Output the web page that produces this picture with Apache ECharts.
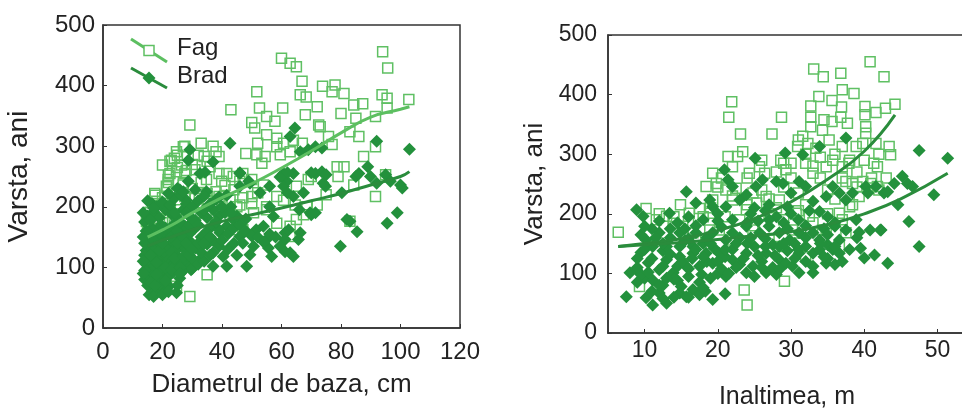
<!DOCTYPE html>
<html>
<head>
<meta charset="utf-8">
<script src="https://cdn.jsdelivr.net/npm/echarts@6/dist/echarts.min.js"></script>
<style>
  html, body { margin: 0; padding: 0; background: #fff; }
  #chart { width: 962px; height: 409px; }
</style>
</head>
<body>
<div id="chart"></div>
<script>
// Left panel: age (Varsta, ani) vs. base diameter (cm)
var diamFag = [
  [94,456],[95.7,429],[60,445],[62.9,437],[65,431],[66.9,407],[66.3,385],[68.3,381],
  [51.7,390],[73.8,399],[78,401],[77,390],[81,387],[93.8,385],[95.5,379],[102.8,377],[95.5,363],
  [43,360],[60.4,363],[72,365],[68,352],[52.6,363],[55,349],[57.8,341],[84.3,368],[87.3,370],
  [80,354],[85,346],[91.6,349],[29.2,335],[50,339],[51,330],[72.5,335],[73,332],
  [83,324],[86,316],[55,319],[58.4,313],[52,305],[60.7,305],[64,310],[75.8,316],[77,303],[67,305],
  [33,305],[37,300],[27.5,300],[24.7,291],[38,291],[34,283],[39,283],[24,280],[22.5,275],[20,269],
  [26.4,269],[48,288],[51.7,286],[54.5,283],[53.4,272],[59.6,286],[62.9,291],[58.4,299],
  [78.7,266],[81,266],[87.6,283],[91.6,299],
  [22.5,255],[24.7,258],[27.5,255],[30.9,261],[36,266],[39,255],[41.6,255],[43.8,250],[46,242],
  [21.9,245],[21.3,234],[27,236],[34.8,245],[39.9,242],[47,255],[50,245],[53.9,236],[52,223],
  [58.4,217],[65,234],[69,245],[70,250],[79,250],[91.6,217],[95,253],[84.3,236],[75,220],
  [17.4,222],[18,209],[21.9,206],[27.5,217],[31,214],[35,222],[39,217],[42.7,211],[46,203],
  [50,217],[55,200],[60.7,211],[64.6,203],[68.5,200],[72,203],
  [15.7,190],[19,181],[25,195],[31,190],[38,184],[43.8,184],[50.6,190],[58.4,173],[62.9,168],
  [65,179],[67.4,187],[83,176],[43.8,162],[47,162],
  [14.6,176],[15,162],[16.3,146],[21.3,162],[25.8,154],[34.8,151],[62.9,151],
  [35,88],[29.2,52],[21.3,102],[24.7,69],[23.6,118],[19,135],
  [15,150],[15,167],[15.8,191],[17.5,219],[21.5,233],[22,252],[23,277],[25,285],[27,299],
  [20,215],[24,225],[27,240],[30,230],[33,240],[22,190],[26,205],[29,215],[32,200],[35,210],
  [38,225],[41,235],[44,228],[47,215],[17,160],[20,180],[24,170],[28,180],[31,190],[36,190],
  [40,205],[45,200],[50,205],[55,195],[28,260],[30,270],[32,285],[35,275],[25,265],[22,240]
];
var diamBrad = [
  [103,295],[92,308],[64.5,330],[62.9,316],[42.7,305],[29.2,294],[28.7,277],[32.6,255],[28.7,242],
  [66.3,291],[69,294],[71.4,299],[73.6,297],[46,255],[49,242],[46,234],[34.8,225],[25.8,228],[28,211],
  [60.7,255],[64,255],[61.8,242],[60.7,234],[71.4,255],[73.6,258],[75,253],[74.8,234],[85,250],
  [86,255],[89,266],[89.9,250],[92,239],[95,253],[96.6,242],[100,236],[100.6,231],[80.3,223],
  [67.4,223],[64,217],[56,234],[52.8,223],[37,274],[34.3,257],[46,256],[49.4,239],[59.5,249],
  [62,256],[70,256],[39,216],[41.6,219],[56,200],[66,195],[69.6,190],[62,223],[74,239],
  [82,179],[83,176],[85.4,159],[79.8,135],[95.5,173],[98.9,190],[71.4,190],[70,187],[66.3,157],
  [65.7,146],[62.4,162],[61.2,157],[61.2,146],[59.5,135],[62.9,124],[64,118],[61.2,126],[55.6,132],
  [56.7,118],[55,146],[50.6,135],[49.4,121],[48.3,102],[46,151],[51.5,162],[53.9,168],[57.3,184],
  [43.8,179],[41.6,168],[39.3,157],[37,124],[40.4,118],[41.6,102],[37,102],[32.6,113],[29.6,96],
  [24.7,58],[25.8,82],[28,107],
  [15.5,55],[16.5,60],[17,52],[18.5,65],[15,70],[20,62],[22,68],[19,72],[21.5,72],
  [14,80],[15.5,85],[17,90],[18.5,82],[20,88],[22,85],[23.5,92],[16,95],[19,97],[21,78],[27,95],[30,98],
  [14.5,105],[16,110],[17.5,102],[19,115],[20.5,106],[22,112],[23.5,104],[25,118],[26.5,108],
  [15,118],[18,120],[21,120],[30,115],[32,105],[34,110],
  [14.5,128],[16,135],[17.5,130],[19,140],[20.5,126],[22,135],[23.5,142],[25,130],[26.5,138],
  [28,128],[29.5,142],[31,132],[33,125],[35,138],[37,145],[39,135],[15,145],[18,148],[24,150],
  [15,155],[16.5,165],[18,158],[19.5,170],[21,152],[22.5,162],[24,172],[26,158],[27.5,168],[29,155],
  [31,165],[33,150],[35,160],[37,170],[39,162],[42,155],[44,165],[46,170],[48,160],[50,152],
  [52,150],[54,142],[56,155],[58,150],
  [15,185],[17,192],[19,182],[21,195],[23,188],[25,182],[27,195],[29,185],[31,178],[33,190],
  [35,182],[37,195],[39,185],[41,190],[43,200],[45,185],
  [15,210],[16.5,205],[18,200],[20,208],[22.5,203],[24,214],[26,220],[28,205],[30,200],[32,210],
  [34,218],[36,205],[38,212],[40,200],[25,230],[27,225],[22,222],[31,228],
  [14,95],[14,120],[14,140],[14.5,160],[14,175],[16,75],[17.5,70],[16,120],[17,145],[16,178],
  [18,108],[19,128],[19.5,155],[17,198],[20,140],[21,100],[21,165],[23,97],[23,125],[23,150],
  [24,115],[24,190],[25,140],[25,160],[26,100],[26,175],[27,118],[27,150],[28,140],[28,190],
  [29,120],[29,170],[30,130],[30,180],[32,140],[32,170],[34,140],[34,195],[36,120],[36,150],
  [38,175],[40,145],[42,130],[44,140],[45,120],[47,140],[43,190],[48,180],[20,55],[22,60],
  [18,88],[26,90],[25,70],[13.5,90],[13.5,110],[13.5,150],[13.5,190]
];
var diamFagFit = [[15,150],[20,162],[25,175],[30,190],[40,215],[50,238],[60,264],[70,292],[80,322],[90,348],[100,361],[103,365]];
var diamBradFit = [[15,135],[20,145],[30,162],[40,176],[50,187],[60,198],[70,210],[80,222],[90,236],[100,250],[103,258]];

// Right panel: age (Varsta, ani) vs. tree height (m)
var heightFag = [
  [40.8,455],[33.1,443],[34.4,430],[36.8,436],[42.7,430],[21.9,388],[21.5,362],[23.1,334],[27.4,334],
  [28.7,362],[33.8,397],[35.6,390],[37,408],[38.6,402],[32.7,381],[36.9,379],[40.1,380],[41.6,370],
  [42.9,377],[44.2,384],[40.1,366],[32.7,362],[34.5,358],[35.6,355],[36.8,362],[37.7,352],[32.7,346],
  [34.3,340],[40.2,346],[40.2,335],[31.6,330],[32.3,318],[33.4,310],[35.2,324],[37,313],[38.9,313],
  [41.6,318],[43.4,313],[43.6,299],[39.8,318],[30.9,313],[31,324],
  [21.4,296],[22.7,296],[22,279],[23.4,304],[19.3,268],[20.5,260],[18.4,246],[19.8,251],[21.1,240],
  [22.5,243],[24.3,268],[25.7,279],[26.4,268],[28.6,290],[29,285],[29.3,274],[32,285],[33,268],
  [34.8,279],[35.7,290],[37,279],[37.9,285],[41.3,285],[41.8,279],[40.9,251],[41.8,246],[37.5,254],
  [38.4,251],[39.8,254],[38.4,215],[36.6,201],[35.7,184],[34.3,173],[32.5,196],[30.7,201],[28.4,223],
  [26.6,229],[24.8,235],[25.3,218],[23.9,207],[22,223],[19.3,223],
  [14.9,215],[16.1,201],[17.5,209],[18.9,201],[10.2,209],[11.6,190],[13,196],[13.9,184],[15.2,179],
  [16.6,168],[18.9,173],[6.4,169],[9.3,78],[23.6,72],[24,47],[29.1,87],[27,156],[28.4,145],[31.1,151],
  [32,128],[34.8,173],[37.5,168],[36.6,145],[30.2,173],[24.8,173],[22,156],[20.2,173],[17,156],
  [38,212],[39.3,229],
  [20,245],[22,230],[24,215],[26,240],[27,225],[28,210],[29,245],[30,260],[31,235],[32,215],
  [33,280],[34,260],[35,240],[36,225],[37,260],[38,290],[39,270],[40,290],[41,260],[42,300],
  [36,300],[34,295],[32,300],[30,285],[28,270],[26,290],[24,260],[23,190],[25,180],[27,200],
  [29,190],[31,205],[33,185],[35,200],[37,190],[39,245],[42,240],[43,260],[18,195],[16,185],
  [14,195],[12,200],[21,195],[19,210]
];
var heightBrad = [
  [10.2,59],[11.1,47],[12,67],[13,50],[14.8,67],[15.7,61],[16.6,73],[17.5,64],[19.3,56],[7.5,61],
  [21,66],[12.5,58],[18.3,70],
  [8,101],[8.9,106],[10,92],[11.1,89],[12.5,80],[13.9,101],[14.5,88],[16,95],[17.5,85],[19,92],
  [21.1,95],[23.9,101],[26.6,101],[31.1,101],[33,101],[9.5,98],[15,78],[20,100],[25,95],[28,98],
  [9,110],[10.5,118],[12,106],[13,123],[14.5,112],[15.7,112],[17.5,112],[18.5,120],[19.3,117],
  [20.5,108],[22,123],[23,115],[24.8,112],[26,120],[27.5,110],[28.4,123],[29.3,117],[30.2,112],
  [32,120],[34.8,117],[36,115],[11,125],[16.5,125],[21,128],
  [9.5,135],[11.1,145],[12.5,138],[13,145],[14.8,128],[14.8,145],[16.6,134],[16.6,145],[18.4,134],
  [19.5,142],[20.2,134],[22,140],[23.9,134],[25,145],[26.6,134],[27.5,148],[28.4,145],[29.5,138],
  [31.1,134],[32,145],[33,134],[33.9,140],[35.7,140],[36.6,134],[35,148],[30.5,150],[24,150],[18,150],
  [10.2,156],[12,168],[13.5,160],[14.8,168],[16,158],[17,168],[18.5,160],[19.3,168],[21.1,156],
  [22,168],[23,160],[23.9,179],[25.7,168],[26.5,158],[27,179],[28.4,168],[29.8,156],[31.1,168],
  [32,160],[33,168],[33.9,156],[34.5,175],[36,179],[36.6,156],[37.5,173],[11,175],[15.5,175],
  [20.5,178],[9.5,165],
  [10,179],[9.8,196],[8.9,207],[13.4,201],[12,188],[14.5,185],[16,195],[17,218],[18,190],[18.9,223],
  [19.3,212],[20,200],[21.1,212],[22,190],[23,223],[24.5,200],[25.5,188],[26.5,205],[28,195],
  [29,185],[30,200],[31,190],[32.5,205],[33.9,204],[35,195],[36,185],[38.9,190],[25,210],[27,215],
  [29.5,212],
  [15.7,237],[22,246],[23.9,232],[25.2,246],[26.1,257],[28,254],[28.9,251],[30,235],[31.1,254],
  [32,246],[33,221],[34.8,229],[35.7,246],[36.6,235],[37.5,223],[38.4,235],[40.2,246],[40.5,235],
  [41.6,246],[42.7,235],[43.2,237],[20.9,274],[21.4,257],[25.1,293],[29.2,302],[31.6,299],[33.9,313],
  [37.5,327],[44.1,251],[45.2,263],[45.9,251],[46.6,246],[49.5,232],[44.6,215],[46.1,187],[47.5,145],
  [47.5,306],[51.4,293],[43.2,117],[41.4,131],[40,126],[39.5,142],[40.8,173],[42.3,173],[37,120],
  [38,140],[39,160],[35,125],[42.2,173],[39.3,169],
  [9,125],[10,140],[10.5,102],[11.5,160],[12.5,112],[12.5,150],[13.5,132],[13.5,175],[14,90],
  [15.2,120],[15.5,155],[16,108],[17,140],[17,180],[17.8,98],[18,128],[19,150],[20,120],[20,188],
  [21,140],[21.5,100],[22.5,150],[22.5,110],[23.5,125],[24.5,160],[24,185],[25.5,130],[26,110],
  [26.5,145],[27,190],[27.8,130],[28.5,108],[29,150],[29.5,175],[30.5,125],[31,140],[32,180],
  [33,112],[34,150],[34.5,128],[35,165],[36,145],[12,80],[14,60],[16,60],[11,70],[18,76],[9,85],[13,92]
];
var heightFagFit = [[6.4,145],[10,150],[15,158],[20,172],[25,192],[30,220],[35,258],[40,305],[44.2,366]];
var heightBradFit = [[6.4,145],[10,148],[15,152],[20,157],[25,163],[30,170],[35,182],[40,200],[45,225],[51.4,268]];

// Axis ticks
var heightTicks = [10, 20, 30, 40, 50];

var FONT = '"Liberation Sans", Arial, sans-serif';
var TEXT = '#222';
var FAG_COLOR = '#5fc063';
var BRAD_COLOR = '#23913c';
var FIT_LIGHT = '#5cbf60';
var FIT_DARK = '#2a8c3c';

var chart = echarts.init(document.getElementById('chart'), null, { renderer: 'canvas' });

function yAxisCfg(gridIndex, labelSize, nameSize, nameGap, labelMargin) {
  return {
    type: 'value', gridIndex: gridIndex, min: 0, max: 500, interval: 100,
    name: 'Varsta, ani', nameLocation: 'middle', nameGap: nameGap, nameRotate: 90,
    nameTextStyle: { fontFamily: FONT, fontSize: nameSize, color: TEXT },
    axisLine: { show: true, onZero: false, lineStyle: { color: '#333', width: 1.5 } },
    axisTick: { show: true, inside: true, length: 4, lineStyle: { color: '#333' } },
    axisLabel: { fontFamily: FONT, fontSize: labelSize, color: TEXT, margin: labelMargin },
    splitLine: { show: false }
  };
}

var fagStyle = { color: 'rgba(255,255,255,0)', borderColor: FAG_COLOR, borderWidth: 1.5, opacity: 1 };
var bradStyle = { color: BRAD_COLOR, opacity: 1 };

var option = {
  animation: false,
  backgroundColor: '#fff',
  grid: [
    { left: 103, top: 25, width: 357, height: 303, outerBoundsMode: 'none', show: true, borderColor: '#333', borderWidth: 1.5, backgroundColor: 'transparent' },
    { left: 608, top: 35, width: 358, height: 298, outerBoundsMode: 'none', show: true, borderColor: '#333', borderWidth: 1.5, backgroundColor: 'transparent' }
  ],
  xAxis: [
    {
      type: 'value', gridIndex: 0, min: 0, max: 120, interval: 20,
      name: 'Diametrul de baza, cm', nameLocation: 'middle', nameGap: 44,
      nameTextStyle: { fontFamily: FONT, fontSize: 26, color: TEXT },
      axisLine: { show: true, onZero: false, lineStyle: { color: '#333', width: 1.5 } },
      axisTick: { show: true, inside: true, length: 4, lineStyle: { color: '#333' } },
      axisLabel: { fontFamily: FONT, fontSize: 24, color: TEXT, margin: 12 },
      splitLine: { show: false }
    },
    {
      type: 'value', gridIndex: 1, min: 5, max: 53.9,
      name: 'Inaltimea, m', nameLocation: 'middle', nameGap: 52,
      nameTextStyle: { fontFamily: FONT, fontSize: 25, color: TEXT },
      axisLine: { show: true, onZero: false, lineStyle: { color: '#333', width: 1.5 } },
      axisTick: { show: true, inside: true, length: 4, lineStyle: { color: '#333' }, customValues: heightTicks },
      axisLabel: { fontFamily: FONT, fontSize: 23, color: TEXT, margin: 6, customValues: heightTicks },
      splitLine: { show: false }
    }
  ],
  yAxis: [
    yAxisCfg(0, 24, 28, 70, 8),
    yAxisCfg(1, 23, 26, 60, 11)
  ],
  series: [
    {
      type: 'scatter', xAxisIndex: 0, yAxisIndex: 0, data: diamFag,
      symbol: 'rect', symbolSize: 10, itemStyle: fagStyle
    },
    {
      type: 'scatter', xAxisIndex: 0, yAxisIndex: 0, data: diamBrad,
      symbol: 'diamond', symbolSize: 13, itemStyle: bradStyle
    },
    {
      type: 'line', xAxisIndex: 0, yAxisIndex: 0, data: diamFagFit, smooth: true,
      symbol: 'none', lineStyle: { color: FIT_LIGHT, width: 3 }, z: 5
    },
    {
      type: 'line', xAxisIndex: 0, yAxisIndex: 0, data: diamBradFit, smooth: true,
      symbol: 'none', lineStyle: { color: FIT_DARK, width: 3 }, z: 5
    },
    {
      type: 'scatter', xAxisIndex: 1, yAxisIndex: 1, data: heightFag,
      symbol: 'rect', symbolSize: 10, itemStyle: fagStyle
    },
    {
      type: 'scatter', xAxisIndex: 1, yAxisIndex: 1, data: heightBrad,
      symbol: 'diamond', symbolSize: 13, itemStyle: bradStyle
    },
    {
      type: 'line', xAxisIndex: 1, yAxisIndex: 1, data: heightFagFit, smooth: true,
      symbol: 'none', lineStyle: { color: FIT_DARK, width: 3 }, z: 5
    },
    {
      type: 'line', xAxisIndex: 1, yAxisIndex: 1, data: heightBradFit, smooth: true,
      symbol: 'none', lineStyle: { color: FIT_DARK, width: 3 }, z: 5
    }
  ],
  // Legend keys for the left panel (line with its marker, then the species name)
  graphic: [
    { type: 'line', shape: { x1: 131, y1: 39, x2: 167, y2: 62 }, style: { stroke: FIT_LIGHT, lineWidth: 3 }, z: 10 },
    { type: 'rect', shape: { x: 144, y: 45.5, width: 10, height: 10 }, style: { fill: '#fff', stroke: FAG_COLOR, lineWidth: 1.5 }, z: 11 },
    { type: 'text', left: 177, top: 36, style: { text: 'Fag', font: '24px ' + FONT, fill: TEXT }, z: 11 },
    { type: 'line', shape: { x1: 131, y1: 68, x2: 167, y2: 88 }, style: { stroke: FIT_DARK, lineWidth: 3 }, z: 10 },
    { type: 'polygon', shape: { points: [[149, 71.5], [155.5, 78], [149, 84.5], [142.5, 78]] }, style: { fill: BRAD_COLOR }, z: 11 },
    { type: 'text', left: 177, top: 64, style: { text: 'Brad', font: '24px ' + FONT, fill: TEXT }, z: 11 }
  ]
};

chart.setOption(option);
</script>
</body>
</html>
